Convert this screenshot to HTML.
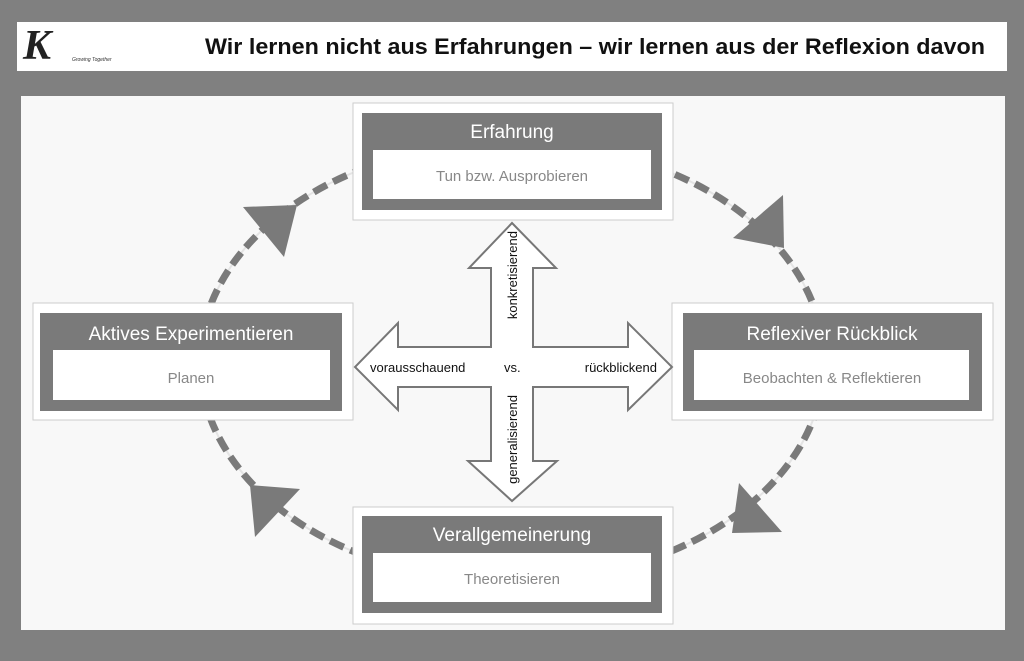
<!DOCTYPE html>
<html><head><meta charset="utf-8"><style>
body{margin:0;width:1024px;height:661px;background:#808080;position:relative;overflow:hidden;font-family:"Liberation Sans",sans-serif}
.hdr{position:absolute;left:17px;top:22px;width:990px;height:49px;background:#fff}
.panel{position:absolute;left:21px;top:96px;width:984px;height:534px;background:#f8f8f8}
</style></head><body>
<div class="hdr">
<div style="position:absolute;left:6px;top:2px;font-family:'Liberation Serif',serif;font-style:italic;font-weight:bold;font-size:42px;color:#222;line-height:44px">K</div>
<div style="position:absolute;left:55px;top:35px;font-size:5px;font-style:italic;color:#333">Growing Together</div>
<svg width="990" height="49" style="position:absolute;left:0;top:0"><text x="188" y="32" font-family="Liberation Sans, sans-serif" font-weight="bold" font-size="22" fill="#111" textLength="780" lengthAdjust="spacingAndGlyphs">Wir lernen nicht aus Erfahrungen – wir lernen aus der Reflexion davon</text></svg>
</div>
<div class="panel"></div>
<svg width="1024" height="661" style="position:absolute;left:0;top:0" font-family="Liberation Sans, sans-serif">
<ellipse cx="512" cy="362" rx="312" ry="220" fill="none" stroke="#e4e4e4" stroke-width="2"/>
<ellipse cx="512" cy="362" rx="312" ry="220" fill="none" stroke="#7a7a7a" stroke-width="7" stroke-dasharray="15 7"/>
<polygon points="783,195 733,238 784,248" fill="#7a7a7a"/>
<polygon points="739,483 782,532 732,533" fill="#7a7a7a"/>
<polygon points="300,489 255,537 250,485" fill="#7a7a7a"/>
<polygon points="243,207 297,205 284,257" fill="#7a7a7a"/>
<g>
<rect x="353" y="103" width="320" height="117" fill="#fff" stroke="#ccc"/>
<rect x="362" y="113" width="300" height="97" fill="#7a7a7a"/>
<rect x="373" y="150" width="278" height="49" fill="#fff"/>
<text x="512" y="138" font-size="19" fill="#fff" text-anchor="middle">Erfahrung</text>
<text x="512" y="181" font-size="15" fill="#888" text-anchor="middle">Tun bzw. Ausprobieren</text>
</g>
<g>
<rect x="33" y="303" width="320" height="117" fill="#fff" stroke="#ccc"/>
<rect x="40" y="313" width="302" height="98" fill="#7a7a7a"/>
<rect x="53" y="350" width="277" height="50" fill="#fff"/>
<text x="191" y="340" font-size="19" fill="#fff" text-anchor="middle">Aktives Experimentieren</text>
<text x="191" y="383" font-size="15" fill="#888" text-anchor="middle">Planen</text>
</g>
<g>
<rect x="672" y="303" width="321" height="117" fill="#fff" stroke="#ccc"/>
<rect x="683" y="313" width="299" height="98" fill="#7a7a7a"/>
<rect x="694" y="350" width="275" height="50" fill="#fff"/>
<text x="832" y="340" font-size="19" fill="#fff" text-anchor="middle">Reflexiver Rückblick</text>
<text x="832" y="383" font-size="15" fill="#888" text-anchor="middle">Beobachten &amp; Reflektieren</text>
</g>
<g>
<rect x="353" y="507" width="320" height="117" fill="#fff" stroke="#ccc"/>
<rect x="362" y="516" width="300" height="97" fill="#7a7a7a"/>
<rect x="373" y="553" width="278" height="49" fill="#fff"/>
<text x="512" y="541" font-size="19" fill="#fff" text-anchor="middle">Verallgemeinerung</text>
<text x="512" y="584" font-size="15" fill="#888" text-anchor="middle">Theoretisieren</text>
</g>
<polygon points="512,223 556,268 533,268 533,347 628,347 628,323 672,367 628,410 628,387 533,387 533,461 557,461 512,501 468,461 491,461 491,387 398,387 398,410 355,367 398,323 398,347 491,347 491,268 469,268" fill="#fff" stroke="#777" stroke-width="2"/>
<text x="370" y="372" font-size="13" fill="#111">vorausschauend</text>
<text x="504" y="372" font-size="13" fill="#111">vs.</text>
<text x="657" y="372" font-size="13" fill="#111" text-anchor="end">rückblickend</text>
<text transform="translate(517,231) rotate(-90)" font-size="13" fill="#111" text-anchor="end">konkretisierend</text>
<text transform="translate(517,395) rotate(-90)" font-size="13" fill="#111" text-anchor="end">generalisierend</text>
</svg>
</body></html>
